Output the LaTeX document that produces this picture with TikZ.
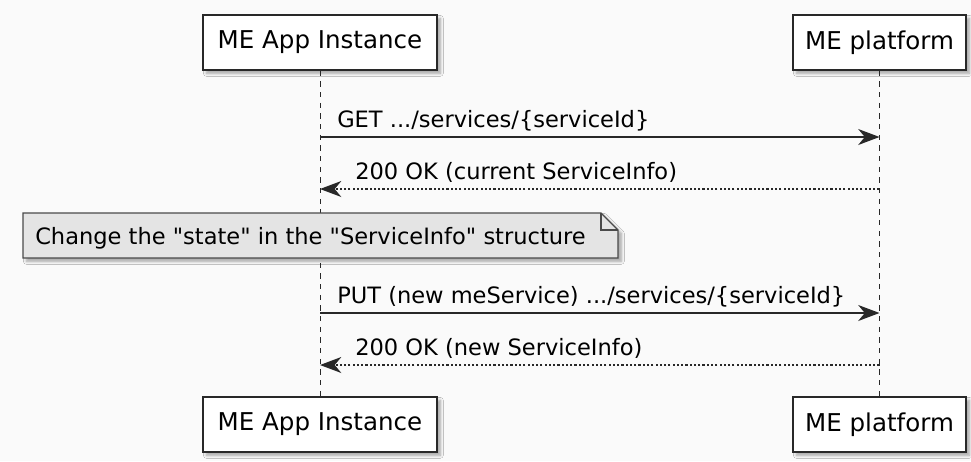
\documentclass[tikz,border=0pt]{standalone}
\usepackage{fontspec}
\setmainfont{DejaVu Sans}[Ligatures=TeXOff]
\usetikzlibrary{arrows.meta,shadows.blur}

\definecolor{bgcol}{HTML}{FAFAFA}
\definecolor{linecol}{HTML}{282828}
\definecolor{notefill}{HTML}{E4E4E4}
\definecolor{noteline}{HTML}{4A4A4A}

\tikzset{
  actorbox/.style={draw=linecol, line width=1.2pt, fill=white,
    minimum height=55*0.75pt, inner sep=0pt,
    blur shadow={shadow xshift=2.5pt, shadow yshift=-2.5pt, shadow blur steps=5, shadow opacity=35},
    font=\fontsize{18.4}{22}\selectfont},
  lifeline/.style={draw=linecol, line width=0.7pt, dash pattern=on 4pt off 4pt},
  callmsg/.style={draw=linecol, line width=1.1pt,
    -{Stealth[length=16pt, width=12pt, inset=5pt]}},
  replymsg/.style={draw=linecol, line width=1.1pt, dash pattern=on 1.6pt off 1.6pt,
    -{Stealth[length=16pt, width=12pt, inset=5pt]}},
  msgtext/.style={anchor=base west, inner sep=0pt, font=\fontsize{16.9}{20}\selectfont},
  notebody/.style={draw=noteline, line width=1pt, fill=notefill,
    blur shadow={shadow xshift=2.5pt, shadow yshift=-2.5pt, shadow blur steps=5, shadow opacity=35}},
}

\begin{document}
\begin{tikzpicture}[x=0.75pt, y=-0.75pt]
  \useasboundingbox[fill=bgcol] (0,0) rectangle (971,461);

  % participants, top and bottom
  \node[actorbox, minimum width=234*0.75pt] (A)  at (320,42.5)  {ME App Instance};
  \node[actorbox, minimum width=173*0.75pt] (P)  at (879.5,42.5) {ME platform};
  \node[actorbox, minimum width=234*0.75pt] (Ab) at (320,424.5) {ME App Instance};
  \node[actorbox, minimum width=173*0.75pt] (Pb) at (879.5,424.5) {ME platform};

  % lifelines
  \draw[lifeline] (A.south) -- (Ab.north);
  \draw[lifeline] (P.south) -- (Pb.north);

  % message rows
  \coordinate (r1) at (0,137);
  \coordinate (r2) at (0,189);
  \coordinate (r3) at (0,313);
  \coordinate (r4) at (0,365);

  \draw[callmsg]  (A.south |- r1) -- (P.south |- r1);
  \node[msgtext] (t1) at (337,127) {GET .../services/\{serviceId\}};

  \draw[replymsg] (P.south |- r2) -- (A.south |- r2);
  \node[msgtext] (t2) at (355,179) {200 OK (current ServiceInfo)};

  % note with folded corner
  \path[notebody] (23,213) -- (601,213) -- (618,230) -- (618,258) -- (23,258) -- cycle;
  \draw[noteline, line width=1pt] (601,213) -- (601,230) -- (618,230);
  \node[msgtext] (nt) at (35,244) {Change the "state" in the "ServiceInfo" structure};

  \draw[callmsg]  (A.south |- r3) -- (P.south |- r3);
  \node[msgtext] (t3) at (337,303) {PUT (new meService) .../services/\{serviceId\}};

  \draw[replymsg] (P.south |- r4) -- (A.south |- r4);
  \node[msgtext] (t4) at (355,355) {200 OK (new ServiceInfo)};
\end{tikzpicture}
\end{document}
